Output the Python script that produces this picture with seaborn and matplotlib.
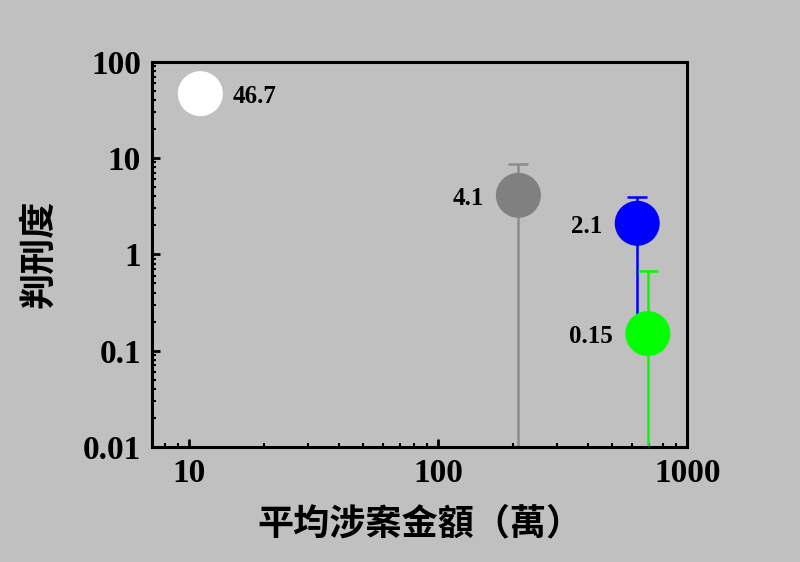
import seaborn as sns
import pandas as pd
import numpy as np
import matplotlib.pyplot as plt

# 資料
groups = ['white', 'gray', 'blue', 'green']
amount = [11.1, 210, 630, 695]        # 平均涉案金額（萬）
degree = [46.7, 4.1, 2.1, 0.15]       # 判刑度
err = [0, 4.55, 1.86, 0.52]           # 誤差（對稱）
labels = ['46.7', '4.1', '2.1', '0.15']
marker_colors = ['#ffffff', '#808080', '#0000ff', '#00ff00']
bar_colors = ['#ffffff', '#8c8c8c', '#0000ff', '#00ff00']
label_side = ['right', 'left', 'left', 'left']

df = pd.DataFrame({'group': groups, 'amount': amount, 'degree': degree})

bg = '#c0c0c0'
sns.set_style('ticks')
plt.rcParams['font.family'] = ['Liberation Serif', 'Noto Sans CJK TC']
plt.rcParams['axes.linewidth'] = 2.2
for k in ['text.color', 'axes.labelcolor', 'xtick.color', 'ytick.color', 'axes.edgecolor']:
    plt.rcParams[k] = 'black'

fig = plt.figure(figsize=(8, 5.62), dpi=100, facecolor=bg)
ax = fig.add_axes([0.19, 0.205, 0.669, 0.685])
ax.set_facecolor(bg)
ax.set_xscale('log')
ax.set_yscale('log')

# 誤差棒：上半有 cap，下半沒有
for i in range(len(groups)):
    if err[i] == 0:
        continue
    ax.errorbar(amount[i], degree[i], yerr=[[0], [err[i]]], fmt='none',
                ecolor=bar_colors[i], elinewidth=1.8, capsize=7, capthick=1.8, zorder=2)
    ax.errorbar(amount[i], degree[i], yerr=[[err[i]], [0]], fmt='none',
                ecolor=bar_colors[i], elinewidth=1.8, capsize=0, zorder=2)

sns.scatterplot(data=df, x='amount', y='degree', hue='group', palette=marker_colors,
                s=1050, edgecolor='none', linewidth=0, legend=False, zorder=3, ax=ax)

for i in range(len(groups)):
    if label_side[i] == 'right':
        off, ha = 23, 'left'
    else:
        off, ha = -25, 'right'
    ax.annotate(labels[i], (amount[i], degree[i]), xytext=(off, -2),
                textcoords='offset points', ha=ha, va='center',
                fontsize=18, fontweight='bold', family='Liberation Serif')

ax.set_xlim(7.1, 955)
ax.set_ylim(0.01, 100)
ax.set_xticks([10, 100, 1000])
ax.set_xticklabels(['10', '100', '1000'])
ax.set_yticks([0.01, 0.1, 1, 10, 100])
ax.set_yticklabels(['0.01', '0.1', '1', '10', '100'])
ax.tick_params(which='major', direction='in', length=6, width=2, pad=8,
               labelsize=24)
ax.tick_params(which='minor', direction='in', length=3, width=1.5)
for lab in ax.get_xticklabels() + ax.get_yticklabels():
    lab.set_fontweight('bold')

for s in ax.spines.values():
    s.set_visible(True)
    s.set_color('black')
    s.set_linewidth(2.2)

ax.set_xlabel('平均涉案金額（萬）', fontsize=26, family=['Noto Sans CJK TC'],
              fontweight='bold', labelpad=12)
ax.set_ylabel('判刑度', fontsize=26, family=['Noto Sans CJK TC'],
              fontweight='bold', labelpad=18)

fig.savefig('out.png', dpi=100, facecolor=bg)
